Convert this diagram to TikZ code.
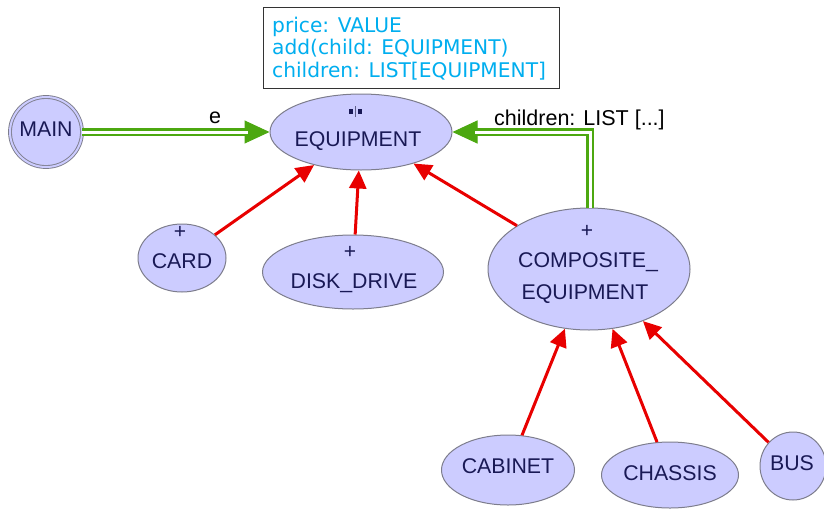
\documentclass[tikz,border=0pt]{standalone}
\usepackage{fontspec}
\setmainfont{Liberation Sans}
\newfontfamily\notefont{DejaVu Sans}
\usetikzlibrary{shapes.geometric,arrows.meta}
\definecolor{clsfill}{RGB}{204,204,255}
\definecolor{clsline}{RGB}{125,125,140}
\definecolor{clstext}{RGB}{25,25,85}
\definecolor{inhred}{RGB}{232,0,0}
\definecolor{cligreen}{RGB}{76,168,16}
\definecolor{notecyan}{RGB}{0,174,239}
\begin{document}
\begin{tikzpicture}[x=1pt,y=-1pt,
  cls/.style={ellipse, draw=clsline, line width=1pt, fill=clsfill, inner sep=0pt},
  ctext/.style={anchor=base, text=clstext, font=\fontsize{21.3}{24}\selectfont, inner sep=0pt},
  plus/.style={text=clstext, font=\fontsize{21}{22}\selectfont, inner sep=0pt},
  inherit/.style={draw=inhred, line width=3pt, -{Triangle[length=18pt,width=17pt]}},
  clihead/.style={draw=cligreen, line width=1pt, -{Triangle[length=25pt,width=23pt]}},
  cliline/.style={draw=cligreen, line width=2.5pt, double=white, double distance=3pt, shorten >=22pt},
  lbl/.style={anchor=base west, inner sep=0pt, font=\fontsize{21.5}{24}\selectfont},
  notebox/.style={draw=black!80, line width=0.8pt, fill=white, inner sep=0pt, anchor=north west},
  notetext/.style={anchor=base west, inner sep=0pt, text=notecyan, font=\notefont\fontsize{20.2}{22}\selectfont}
]
\useasboundingbox (0,0) rectangle (824,509);

% note box
\node[notebox, minimum width=296pt, minimum height=81pt] (note) at (263,7) {};
\node[notetext] (n1) at (272,32) {price: VALUE};
\node[notetext] (n2) at (272,54) {add(child: EQUIPMENT)};
\node[notetext] (n3) at (272,77) {children: LIST[EQUIPMENT]};

% classes
\node[cls, draw=clsline, double=clsfill, double distance=2pt, line width=0.9pt,
      minimum width=72pt, minimum height=70pt] (main) at (46,132) {};
\node[ctext] (maint) at (46,136) {MAIN};

\node[cls, minimum width=182pt, minimum height=76pt] (equip) at (361,132) {};
\node[ctext] (equipt) at (358,146.5) {EQUIPMENT};
\fill[clstext] (349,109) rectangle (353,113.5);
\fill[clstext] (357.5,109) rectangle (361.5,113.5);
\fill[clstext!70] (354.6,106) rectangle (355.9,117);

\node[cls, minimum width=88pt, minimum height=68pt] (card) at (182,258) {};
\node[plus] (cardp) at (180,232) {+};
\node[ctext] (cardt) at (182,268) {CARD};

\node[cls, minimum width=181pt, minimum height=74pt] (disk) at (353,272) {};
\node[plus] (diskp) at (350,252) {+};
\node[ctext] (diskt) at (354,288) {DISK\_DRIVE};

\node[cls, minimum width=202pt, minimum height=122pt] (comp) at (589,269) {};
\node[plus] (compp) at (587,231) {+};
\node[ctext] (compt1) at (588,267) {COMPOSITE\_};
\node[ctext] (compt2) at (585,299) {EQUIPMENT};

\node[cls, minimum width=133pt, minimum height=70pt] (cab) at (508,470) {};
\node[ctext] (cabt) at (508,473) {CABINET};

\node[cls, minimum width=137pt, minimum height=66pt] (chas) at (670,475) {};
\node[ctext] (chast) at (670,480) {CHASSIS};

\node[cls, minimum width=66pt, minimum height=68pt] (bus) at (793,466) {};
\node[ctext] (bust) at (792,470) {BUS};

% inheritance
\draw[inherit] (card) -- (equip);
\draw[inherit] (disk) -- (equip);
\draw[inherit] (comp) -- (equip);
\draw[inherit] (cab) -- (comp);
\draw[inherit] (chas) -- (comp);
\draw[inherit] (bus) -- (comp);

% client links
\draw[clihead] (main) -- (equip);
\draw[cliline] (main) -- (equip);
\node[lbl] (elbl) at (209,123) {e};

\coordinate (bend) at (590,132);
\draw[clihead] (comp.north -| bend) -- (bend) -- (equip.east);
\draw[cliline] (comp.north -| bend) -- (bend) -- (equip.east);
\node[lbl] (clbl) at (494,125) {children: LIST [...]};
\end{tikzpicture}
\end{document}
